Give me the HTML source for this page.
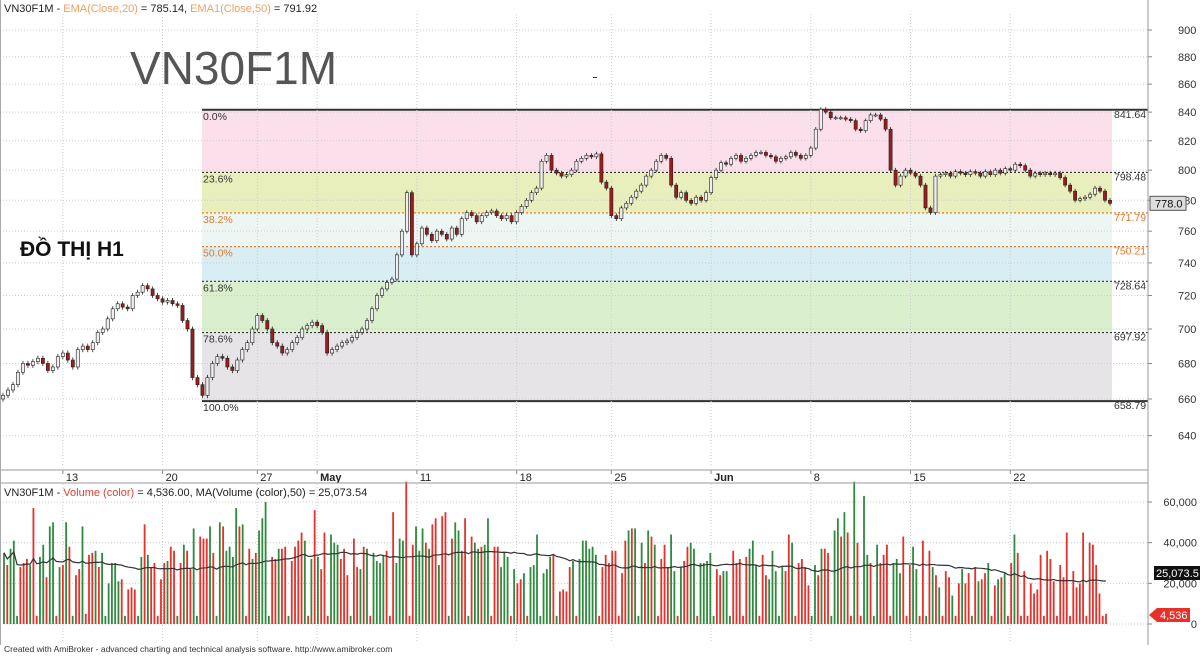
<!DOCTYPE html>
<html><head><meta charset="utf-8">
<style>
html,body{margin:0;padding:0;background:#fff;}
body{width:1200px;height:656px;overflow:hidden;font-family:"Liberation Sans",sans-serif;}
svg text{font-family:"Liberation Sans","Noto Sans CJK JP",sans-serif;}
</style></head>
<body>
<svg id="chart" width="1200" height="656" viewBox="0 0 1200 656" xmlns="http://www.w3.org/2000/svg">
<rect x="0" y="0" width="1200" height="656" fill="#fff"/>
<g id="fib"></g>
<g id="grid"></g>
<g id="candles"></g>
<g id="vol"></g>
<g id="axes"></g>
<text x="4" y="12" font-size="11" fill="#222">VN30F1M - <tspan fill="#f0a060">EMA(Close,20)</tspan> = 785.14, <tspan fill="#f0a060">EMA1(Close,50)</tspan> = 791.92</text>
<text x="130" y="84" font-size="46" fill="#555">VN30F1M</text>
<text x="20" y="256" font-size="21" font-weight="bold" fill="#111">ĐỒ THỊ H1</text>
<rect x="593" y="77" width="4" height="1" fill="#333"/>
<text x="4" y="496" font-size="11" fill="#222">VN30F1M - <tspan fill="#e04030">Volume (color)</tspan> = 4,536.00, MA(Volume (color),50) = 25,073.54</text>
<text x="4" y="652" font-size="8.5" fill="#333">Created with AmiBroker - advanced charting and technical analysis software. http://www.amibroker.com</text>
</svg>
<script>
const closes=[662,665,668,675,680,679,681,683,680,676,678,684,686,682,678,688,690,688,692,698,
700,706,712,715,713,712,720,722,726,724,720,718,716,717,715,714,705,700,672,668,
662,672,680,684,683,678,676,682,688,692,700,708,705,700,692,690,686,688,692,695,
700,702,704,702,698,686,688,690,692,693,695,698,700,705,712,720,724,728,730,745,
760,785,745,752,762,758,754,760,758,755,762,758,768,772,770,766,770,772,773,770,
768,770,766,772,776,780,785,788,806,810,800,798,796,797,800,806,808,810,809,811,
792,788,770,768,775,778,782,786,790,796,800,806,810,808,790,782,785,780,778,782,
780,785,795,800,805,804,808,810,806,808,810,812,812,810,809,806,808,809,812,810,
808,810,815,828,842,840,836,836,836,835,834,828,827,834,838,838,835,828,800,790,
796,800,798,796,790,775,772,796,797,798,796,799,798,797,799,798,796,799,797,800,
798,801,800,804,803,800,796,798,797,798,797,798,795,790,786,780,781,782,784,788,786,780,778];
const volumes=[35,29,37,41,4,28,30,32,29,57,4,33,39,23,48,50,4,28,29,50,38,4,24,27,48,5,34,35,36,28,35,4,20,30,30,21,22,4,17,18,17,4,33,49,34,28,30,4,22,30,31,38,36,4,30,39,36,27,47,4,43,42,42,48,35,4,50,48,36,38,33,57,48,49,4,37,32,35,46,52,60,4,33,32,37,37,38,4,31,38,41,45,41,4,32,56,33,27,45,4,44,40,39,32,37,24,4,42,28,27,38,37,4,35,31,30,34,36,4,55,30,42,41,70,4,39,48,36,47,40,37,49,52,29,53,55,4,42,50,46,36,52,4,43,40,37,38,39,52,4,38,38,28,35,33,4,27,20,22,25,4,28,29,44,4,25,27,33,34,4,16,17,16,28,31,4,32,41,41,37,38,34,4,28,34,30,36,36,4,25,41,46,47,47,4,40,30,46,43,39,4,32,39,28,44,26,4,28,31,38,40,37,4,30,30,31,35,4,27,24,26,26,4,36,30,32,4,33,37,41,29,4,34,24,22,36,26,4,28,26,44,40,4,30,32,28,19,4,29,24,37,37,35,4,46,52,43,55,45,4,70,40,4,63,34,30,4,39,30,34,39,4,30,32,25,43,4,29,38,27,4,41,4,36,28,24,18,4,26,23,14,4,20,27,20,25,4,28,21,22,25,30,4,19,22,23,25,4,30,44,35,4,26,4,20,15,17,34,4,36,32,21,4,29,23,45,4,26,18,20,45,4,40,39,29,15,4,5];
const volColors="grgggrrrgrrggrggrgrgrgrrgrrrgrggggggrgrrrggrgrrrrrgrrgrgrrggrrrgrggrggggrgrrgrggggrrgrrgrrrrgrgrgrrrgggrrrgrrgrgrggggrrrgggrrrgggrgrrgrrgrggrrgrggrggrrrgggrgrrgrgggggggrgrrrrgrggggggrrrrrrrrrgrgggrgrgrrrrggrgrrggrgggggrrgggrrrrrgggrrrgggggrrgrrrrrggrgrrgggrgrrgrrggrggrrrrgggrrrggrrgrgrgrrrgrrgrrgrgrrgrrgrgrrg";
const priceTicks=[640,660,680,700,720,740,760,780,800,820,840,860,880,900];
const volTicks=[0,20000,40000,60000];
const fibLevels=[841.64,798.48,771.79,750.21,728.64,697.92,658.79];
const fibPct=["0.0%","23.6%","38.2%","50.0%","61.8%","78.6%","100.0%"];
const dateLabels=["13","20","27","May","11","18","25","Jun","8","15","22"];
const dateIndex=[12,32,51,63,83,103,122,142,162,182,202];

const NS="http://www.w3.org/2000/svg";
function mk(tag,attrs,parent){const e=document.createElementNS(NS,tag);for(const k in attrs)e.setAttribute(k,attrs[k]);parent.appendChild(e);return e;}
const PX0=3,PX1=1110,RIGHT=1148;
const yP=p=>399-1189.6*Math.log(p/660);
const xI=i=>PX0+i*(PX1-PX0)/(closes.length-1);
const VX0=4,VX1=1106;
const xV=i=>VX0+i*(VX1-VX0)/(volumes.length-1);
const yV=v=>624-v*(122/60000);
const fib=document.getElementById('fib'),grid=document.getElementById('grid'),cg=document.getElementById('candles'),vg=document.getElementById('vol'),ax=document.getElementById('axes');

// fib bands
const bandCols=["#fbe0ec","#e9efbc","#eef6f4","#d9eef4","#d9efcd","#e6e4e6"];
for(let k=0;k<6;k++){const y0=yP(fibLevels[k]),y1=yP(fibLevels[k+1]);
 const r=mk('rect',{x:202,y:y0,width:910,height:y1-y0,fill:bandCols[k]},fib);
 
 }
// grid
for(const p of priceTicks){const y=yP(p);mk('line',{x1:0,x2:RIGHT,y1:y,y2:y,stroke:'#ccc','stroke-dasharray':'1,2'},grid);}
for(const v of volTicks){const y=yV(v);mk('line',{x1:0,x2:RIGHT,y1:y,y2:y,stroke:'#ccc','stroke-dasharray':'1,2'},grid);}
dateIndex.forEach((di,k)=>{const x=xI(di);
 mk('line',{x1:x,x2:x,y1:14,y2:466,stroke:'#ccc','stroke-dasharray':'1,2'},grid);
 mk('line',{x1:x,x2:x,y1:484,y2:643,stroke:'#ccc','stroke-dasharray':'1,2'},grid);
 mk('line',{x1:x,x2:x,y1:470,y2:474,stroke:'#888'},ax);
 const t=mk('text',{x:x+3,y:481,'font-size':11,fill:'#222','font-weight':(dateLabels[k]==='May'||dateLabels[k]==='Jun')?'bold':'normal'},ax);
 t.textContent=dateLabels[k];
 
 });
// fib lines + labels
fibLevels.forEach((lv,k)=>{const y=yP(lv);const solid=(k===0||k===6);const orange=(k===2||k===3);
 mk('line',{x1:202,x2:1148,y1:y,y2:y,stroke:orange?'#e07a30':'#333','stroke-width':solid?2:1.2,'stroke-dasharray':solid?'':'2,2'},fib);
 const t1=mk('text',{x:203,y:y+10,'font-size':10.5,fill:orange?'#e07a30':'#333'},fib);t1.textContent=fibPct[k];
 
 
 const t2=mk('text',{x:1114,y:y+8,'font-size':10.5,fill:orange?'#e07a30':'#333'},fib);t2.textContent=lv.toFixed(2);
 
 });
// candles
closes.forEach((c,i)=>{const o=i?closes[i-1]:c-2;const x=xI(i);const up=c>=o;
 const hi=Math.max(o,c)+1.5,lo=Math.min(o,c)-1.5;
 mk('line',{x1:x,x2:x,y1:yP(hi),y2:yP(lo),stroke:'#222','stroke-width':0.8},cg);
 const yt=yP(Math.max(o,c)),yb=yP(Math.min(o,c));
 const r=mk('rect',{x:x-1.6,y:yt,width:3.2,height:Math.max(1,yb-yt),fill:up?'#eee':'#9b1c1c',stroke:'#222','stroke-width':0.6},cg);
 
 });
// volume
volumes.forEach((v,i)=>{const x=xV(i);
 const r=mk('rect',{x:x-0.9,y:yV(v*1000),width:1.8,height:624-yV(v*1000),fill:volColors[i]==='g'?'#2e8b3e':'#e8302a'},vg);
 
 });
// MA50
let pts=[];volumes.forEach((v,i)=>{const s=Math.max(0,i-49);let sum=0;for(let j=s;j<=i;j++)sum+=volumes[j];pts.push(xV(i)+','+yV(sum/(i-s+1)*1000));});
const ma=mk('polyline',{points:pts.join(' '),fill:'none',stroke:'#333','stroke-width':1.2},vg);


// axes
mk('line',{x1:RIGHT,x2:RIGHT,y1:0,y2:645,stroke:'#999'},ax);
mk('line',{x1:0,x2:RIGHT,y1:470,y2:470,stroke:'#999'},ax);
mk('line',{x1:0,x2:RIGHT,y1:483,y2:483,stroke:'#999'},ax);
mk('line',{x1:0.5,x2:0.5,y1:0,y2:645,stroke:'#aaa'},ax);
for(const p of priceTicks){const y=yP(p);mk('line',{x1:RIGHT,x2:RIGHT+4,y1:y,y2:y,stroke:'#888'},ax);
 const t=mk('text',{x:1178,y:y+4,'font-size':11,fill:'#333'},ax);t.textContent=p;
 
 }
for(const v of volTicks){const y=yV(v);mk('line',{x1:RIGHT,x2:RIGHT+4,y1:y,y2:y,stroke:'#888'},ax);
 const t=mk('text',{x:1197,y:y+4,'font-size':11,fill:'#333','text-anchor':'end'},ax);t.textContent=v.toLocaleString('en-US');
 
 }
// last price box
{const y=yP(closes[closes.length-1]);
 mk('rect',{x:1150,y:y-7,width:36,height:14,fill:'#ddd',stroke:'#555'},ax);
 const t=mk('text',{x:1155,y:y+4,'font-size':11,fill:'#111'},ax);t.textContent=closes[closes.length-1].toFixed(1);
 
 }
{const y=573;mk('rect',{x:1154,y:y-7,width:46,height:14,fill:'#111'},ax);
 const t=mk('text',{x:1156,y:y+4,'font-size':11,fill:'#fff'},ax);t.textContent='25,073.5';
 
 }
{const y=615;mk('polygon',{points:`1149,${y} 1157,${y-7} 1190,${y-7} 1190,${y+7} 1157,${y+7}`,fill:'#e8302a'},ax);
 const t=mk('text',{x:1160,y:y+4,'font-size':11,fill:'#fff'},ax);t.textContent='4,536';
 
 }
</script>
</body></html>
